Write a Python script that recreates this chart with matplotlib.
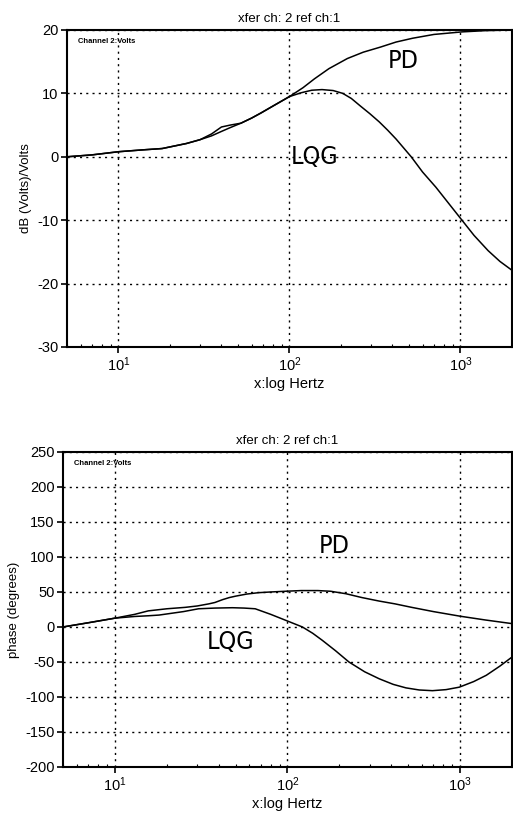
import matplotlib
matplotlib.use('Agg')
import matplotlib.pyplot as plt
from matplotlib.ticker import LogLocator, NullFormatter

plt.rcParams['font.family'] = ['Liberation Sans', 'DejaVu Sans']
plt.rcParams['axes.unicode_minus'] = False

# magnitude (dB)
mag_freq_pd = [5, 7, 10, 14, 18, 25, 30, 35, 40, 45, 52, 60, 68, 80, 100,
               120, 140, 170, 218, 270, 340, 420, 525, 700, 1020, 1400, 2000]
mag_pd = [0, 0.3, 0.8, 1.1, 1.3, 2.1, 2.7, 3.6, 4.7, 5.0, 5.3, 6.1, 6.9, 8.0, 9.5,
          10.9, 12.3, 13.9, 15.5, 16.5, 17.3, 18.1, 18.7, 19.3, 19.7, 19.9, 20.0]
mag_freq_lqg = [5, 7, 10, 14, 18, 25, 30, 35, 40, 45, 52, 60, 68, 80, 100,
                117, 135, 155, 180, 205, 230, 260, 295, 335, 375, 420, 465, 515,
                600, 718, 850, 1020, 1200, 1450, 1700, 2000]
mag_lqg = [0, 0.3, 0.8, 1.1, 1.3, 2.1, 2.7, 3.3, 4.0, 4.6, 5.3, 6.1, 6.9, 8.0, 9.5,
           10.1, 10.5, 10.6, 10.45, 10.0, 9.2, 8.0, 6.8, 5.5, 4.2, 2.8, 1.4, 0,
           -2.4, -4.8, -7.3, -10, -12.4, -14.8, -16.5, -17.9]

# phase (degrees)
ph_freq_pd = [5, 7, 10, 13, 15.6, 20, 25.5, 30, 35, 38, 42, 46, 50, 58, 68, 80,
              97, 120, 150, 178, 218, 270, 340, 420, 525, 700, 1000, 1400, 2000]
ph_pd = [0, 6, 12.6, 18, 23, 26, 28, 30, 33, 35, 39, 42, 44, 47, 49, 50,
         51, 52, 52, 51, 47.5, 42, 37, 33, 28, 22, 15.4, 10, 4.8]
ph_freq_lqg = [5, 7, 10, 13, 15.6, 18, 25, 30.5, 38, 48, 56, 65, 80, 100, 122,
               140, 159, 190, 227, 280, 340, 410, 486, 580, 692, 830, 990,
               1200, 1420, 1700, 2000]
ph_lqg = [0, 6, 12.6, 15, 16, 17, 22, 26, 27, 27.5, 27, 26, 18, 8.5, 0,
          -9, -19, -34, -50, -64, -74, -82, -87, -90, -91, -89.5, -86,
          -78, -69, -56, -43]

fig = plt.figure(figsize=(5.13, 8.24), dpi=100)
ax1 = fig.add_axes([0.1306, 0.5789, 0.8674, 0.3847])
ax2 = fig.add_axes([0.1228, 0.0692, 0.8752, 0.3823])

label_font = dict(family=['DejaVu Sans'], fontstretch='condensed', fontweight='light')


def style(ax, ylim, yticks, ylabel):
    ax.set_xscale('log')
    ax.set_xlim(5, 2000)
    ax.set_ylim(*ylim)
    ax.set_yticks(yticks)
    ax.xaxis.set_major_locator(LogLocator(base=10))
    ax.xaxis.set_minor_locator(LogLocator(base=10, subs=range(2, 10)))
    ax.xaxis.set_minor_formatter(NullFormatter())
    ax.grid(True, which='major', color='black', linestyle=(0, (1.5, 3)), linewidth=1.0)
    for s in ax.spines.values():
        s.set_linewidth(1.5)
    ax.tick_params(axis='both', which='major', labelsize=10.5, length=4, width=1.2,
                   direction='out', pad=2)
    ax.tick_params(axis='x', which='minor', length=2, width=0.8, direction='in')
    ax.set_title('xfer ch: 2 ref ch:1', fontsize=9.5, pad=6)
    ax.set_xlabel('x:log Hertz', fontsize=10.5, labelpad=2)
    ax.set_ylabel(ylabel, fontsize=9.5, labelpad=4)
    ax.text(0.025, 0.975, 'Channel 2:Volts', transform=ax.transAxes, fontsize=5.5,
            fontweight='bold', va='top', ha='left')


style(ax1, (-30, 20), [-30, -20, -10, 0, 10, 20], 'dB (Volts)/Volts')
ax1.plot(mag_freq_pd, mag_pd, color='black', linewidth=1.1)
ax1.plot(mag_freq_lqg, mag_lqg, color='black', linewidth=1.1)
ax1.text(460, 15.1, 'PD', fontsize=18, ha='center', va='center', **label_font)
ax1.text(140, 0, 'LQG', fontsize=18, ha='center', va='center', **label_font)

style(ax2, (-200, 250), [-200, -150, -100, -50, 0, 50, 100, 150, 200, 250],
      'phase (degrees)')
ax2.plot(ph_freq_pd, ph_pd, color='black', linewidth=1.1)
ax2.plot(ph_freq_lqg, ph_lqg, color='black', linewidth=1.1)
ax2.text(187, 116, 'PD', fontsize=18, ha='center', va='center', **label_font)
ax2.text(47, -21, 'LQG', fontsize=18, ha='center', va='center', **label_font)

plt.savefig('out.png', dpi=100)
plt.close()
